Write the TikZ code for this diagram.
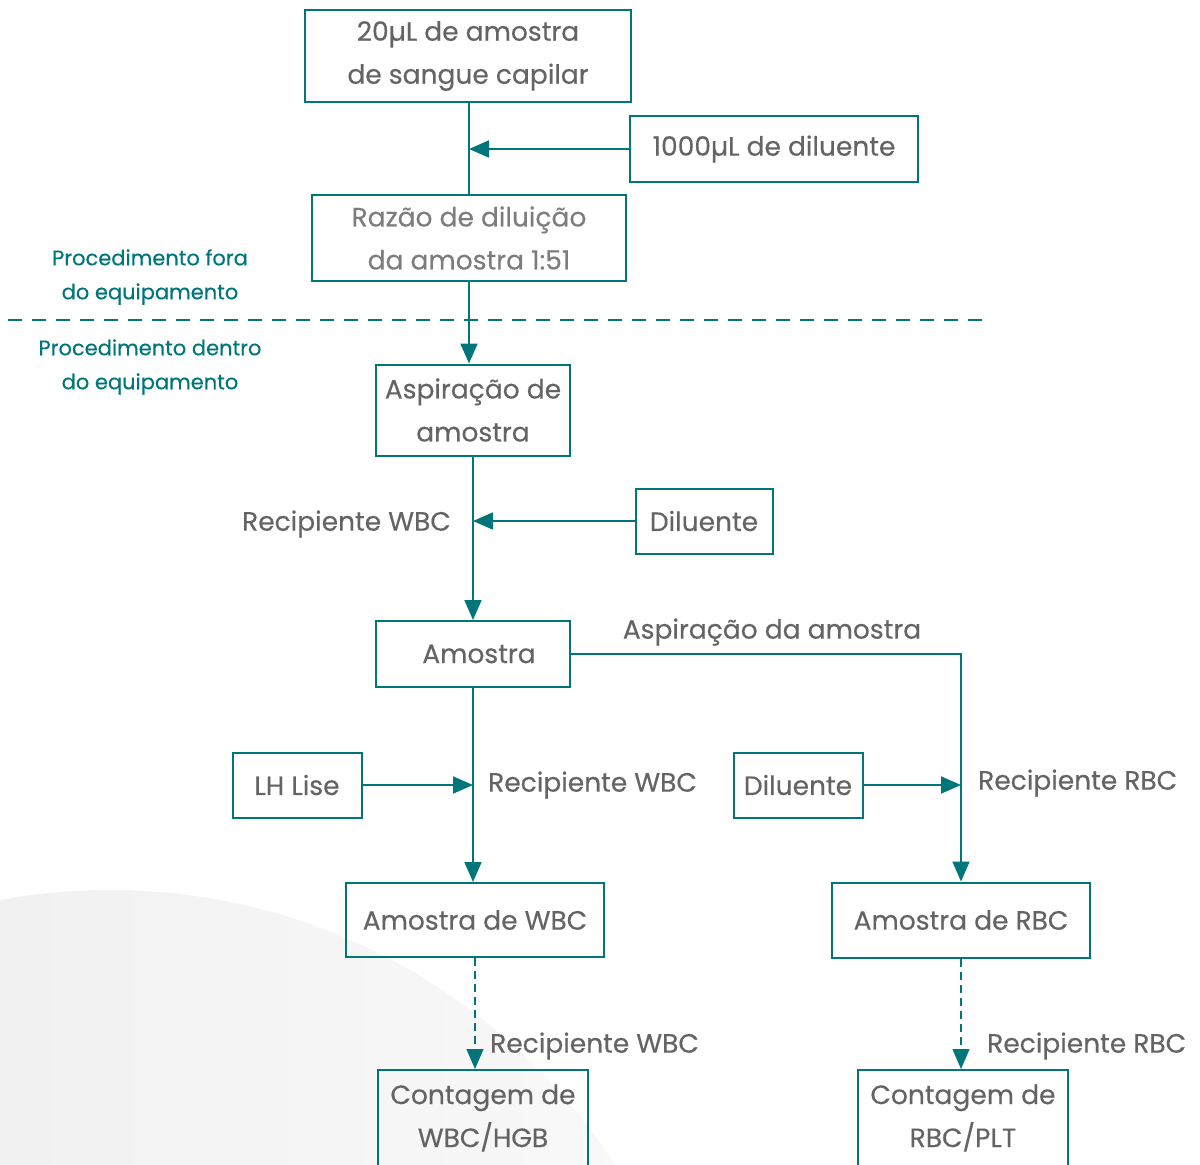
\documentclass[tikz,border=0pt]{standalone}
\usepackage{fontspec}
\setmainfont{Poppins}[FakeBold=0.35]
\usetikzlibrary{arrows.meta}
\definecolor{teal1}{RGB}{0,118,122}
\definecolor{txt}{RGB}{100,100,100}
\definecolor{txtl}{RGB}{125,125,125}
\begin{document}
\begin{tikzpicture}[x=1pt,y=-1pt,
 box/.style={draw=teal1, line width=2pt, inner sep=0pt, text=txt, font=\fontsize{26.5}{43}\selectfont, align=center},
 lbl/.style={text=txt, font=\fontsize{26.5}{43}\selectfont, inner sep=0pt},
 side/.style={text=teal1, font=\fontsize{21}{34}\selectfont, align=center, inner sep=0pt},
 conn/.style={draw=teal1, line width=1.8pt},
 arr/.style={conn, -{Triangle[length=20pt,width=17pt]}},
 dsh/.style={arr, line width=1.3pt, dash pattern=on 8pt off 5pt},
]
\useasboundingbox (0,0) rectangle (1200,1165);
\clip (0,0) rectangle (1200,1165);
\shade[left color=black!8, right color=black!2] (110,1491) circle (601pt);

\node[box, minimum width=326pt, minimum height=92pt] (A) at (468,56) {20µL de amostra\\de sangue capilar};
\node[box, minimum width=288pt, minimum height=66pt] (B) at (774,149) {1000µL de diluente};
\node[box, text=txtl, minimum width=314pt, minimum height=86pt] (C) at (469,238) {Razão de diluição\\da amostra 1:51};
\node[box, minimum width=194pt, minimum height=91pt] (D) at (473,410) {Aspiração de\\amostra};
\node[box, minimum width=137pt, minimum height=65pt] (F) at (704,521) {Diluente};
\node[box, minimum width=194pt, minimum height=66pt] (E) at (473,654) {\hspace*{12pt}Amostra};
\node[box, minimum width=129pt, minimum height=65pt] (LH) at (297,785) {LH Lise};
\node[box, minimum width=129pt, minimum height=65pt] (D2) at (798,785) {Diluente};
\node[box, minimum width=258pt, minimum height=74pt] (G) at (475,920) {Amostra de WBC};
\node[box, minimum width=258pt, minimum height=75pt] (H) at (961,920) {Amostra de RBC};
\node[box, minimum width=210pt, minimum height=96pt] (I) at (483,1118) {Contagem de\\WBC/HGB};
\node[box, minimum width=210pt, minimum height=96pt] (J) at (963,1118) {Contagem de\\RBC/PLT};

\node[side] (s1) at (150,277) {Procedimento fora\\do equipamento};
\node[side] (s2) at (150,367) {Procedimento dentro\\do equipamento};
\coordinate (dl) at (8,320);
\coordinate (dr) at (990,320);
\draw[draw=teal1, line width=1.5pt, dash pattern=on 14pt off 10pt] (dl) -- (dr);

\node[lbl, anchor=east] (l1) at (451,524) {Recipiente WBC};
\node[lbl] (l2) at (772,632) {Aspiração da amostra};
\node[lbl, anchor=west] (l3) at (488,785) {Recipiente WBC};
\node[lbl, anchor=west] (l4) at (978,783) {Recipiente RBC};
\node[lbl, anchor=west] (l5) at (490,1046) {Recipiente WBC};
\node[lbl, anchor=west] (l6) at (987,1046) {Recipiente RBC};

\draw[conn] (C.north |- A.south) -- (C.north);
\draw[arr] (B.west) -- (B.west -| C.north);
\draw[arr] (C.south) -- (C.south |- D.north);
\draw[arr] (D.south) -- (E.north);
\draw[arr] (F.west) -- (F.west -| D.south);
\draw[arr] (E.east) -| (H.north);
\draw[arr] (E.south) -- (E.south |- G.north);
\draw[arr] (LH.east) -- (LH.east -| E.south);
\draw[arr] (D2.east) -- (D2.east -| H.north);
\draw[dsh] (G.south) -- (G.south |- I.north);
\draw[dsh] (H.south) -- (H.south |- J.north);
\end{tikzpicture}
\end{document}
